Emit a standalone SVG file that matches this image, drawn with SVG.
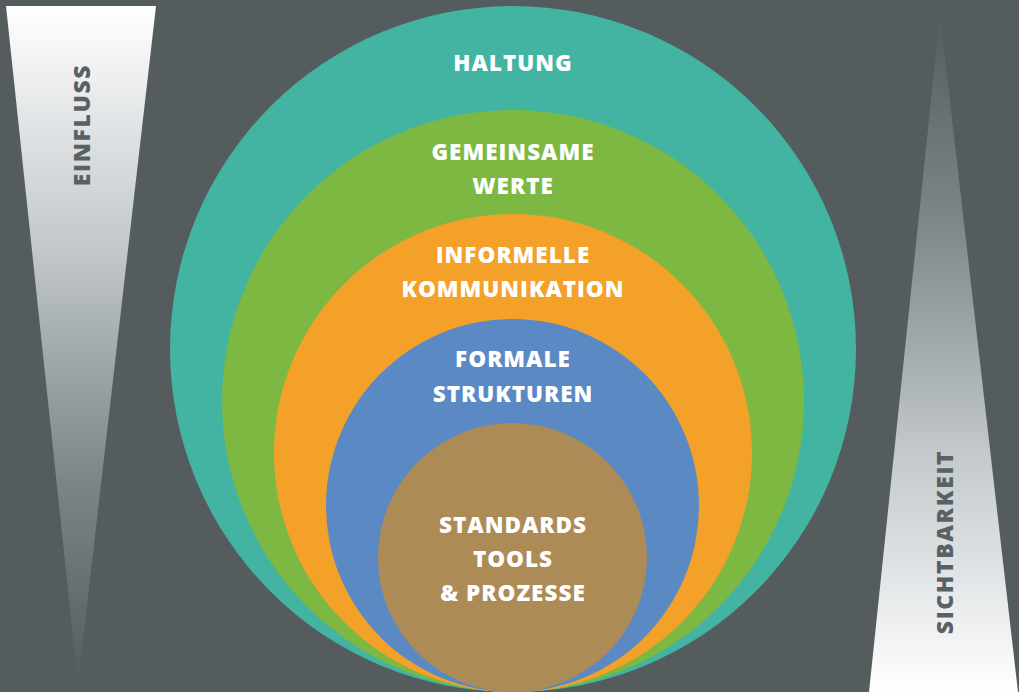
<svg xmlns="http://www.w3.org/2000/svg" width="1019" height="692" viewBox="0 0 1019 692">
  <defs>
    <linearGradient id="fadeDown" x1="0" y1="6" x2="0" y2="682" gradientUnits="userSpaceOnUse">
      <stop offset="0" stop-color="#ffffff"/>
      <stop offset="0.35" stop-color="#c3c9cc"/>
      <stop offset="0.7" stop-color="#7d8589"/>
      <stop offset="1" stop-color="#555c5e"/>
    </linearGradient>
    <linearGradient id="fadeUp" x1="0" y1="692" x2="0" y2="15" gradientUnits="userSpaceOnUse">
      <stop offset="0" stop-color="#ffffff"/>
      <stop offset="0.35" stop-color="#c3c9cc"/>
      <stop offset="0.7" stop-color="#7d8589"/>
      <stop offset="1" stop-color="#555c5e"/>
    </linearGradient>
    <style>
      .lbl { font-family: "Open Sans", "Liberation Sans", sans-serif; font-weight: 800; font-size: 22.5px; letter-spacing: 1px; fill: #ffffff; text-anchor: middle; }
      .side { font-family: "Open Sans", "Liberation Sans", sans-serif; font-weight: 800; font-size: 23px; letter-spacing: 1.6px; fill: #5a6165; text-anchor: middle; }
    </style>
  </defs>

  <rect width="1019" height="692" fill="#555c5e"/>

  <g id="einfluss">
    <polygon points="6,6 156,6 78,684" fill="url(#fadeDown)"/>
    <text class="side" transform="translate(90,125) rotate(-90)">EINFLUSS</text>
  </g>

  <g id="sichtbarkeit">
    <polygon points="940,15 1018,692 869,692" fill="url(#fadeUp)"/>
    <text class="side" transform="translate(953,542) rotate(-90)">SICHTBARKEIT</text>
  </g>

  <g id="haltung">
    <circle cx="513" cy="349" r="343" fill="#43b3a2"/>
    <text class="lbl" x="513" y="71">HALTUNG</text>
  </g>

  <g id="werte">
    <circle cx="513" cy="401" r="291" fill="#7cb842"/>
    <text class="lbl" x="513" y="160">GEMEINSAME</text>
    <text class="lbl" x="513" y="194">WERTE</text>
  </g>

  <g id="kommunikation">
    <circle cx="513" cy="453" r="239" fill="#f4a12a"/>
    <text class="lbl" x="513" y="263">INFORMELLE</text>
    <text class="lbl" x="513" y="297">KOMMUNIKATION</text>
  </g>

  <g id="strukturen">
    <circle cx="512.5" cy="505.5" r="186.5" fill="#5b89c4"/>
    <text class="lbl" x="513" y="367">FORMALE</text>
    <text class="lbl" x="513" y="402">STRUKTUREN</text>
  </g>

  <g id="standards">
    <circle cx="512.5" cy="557.5" r="134.5" fill="#ad8b56"/>
    <text class="lbl" x="513" y="533">STANDARDS</text>
    <text class="lbl" x="513" y="567">TOOLS</text>
    <text class="lbl" x="513" y="601">&amp; PROZESSE</text>
  </g>

  <g id="connectors"/>
</svg>
